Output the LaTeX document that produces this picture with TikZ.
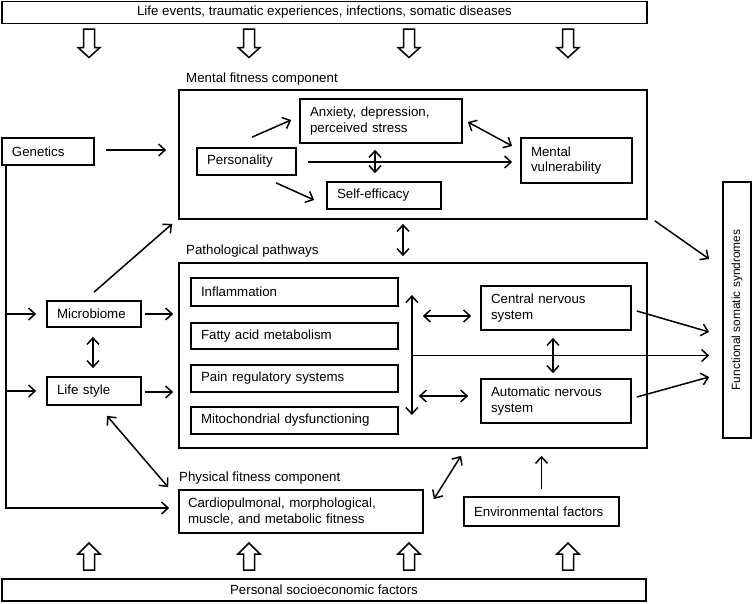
\documentclass[tikz,border=0pt]{standalone}
\usepackage{fontspec}
\setmainfont{Liberation Sans}
\usepackage{graphicx}
\usetikzlibrary{arrows.meta,calc}
\tikzset{
  box/.style={draw, line width=1.7pt, inner xsep=10pt, inner ysep=0pt, align=left},
  frame/.style={draw, line width=1.7pt, inner sep=0pt},
  bar/.style={draw, line width=1.7pt, inner sep=0pt, align=center},
  lbl/.style={inner sep=0pt, anchor=base west},
  arr/.style={line width=1.5pt, -{Straight Barb[length=6.5pt,width=12pt]}},
  darr/.style={line width=1.5pt, {Straight Barb[length=6.5pt,width=12pt]}-{Straight Barb[length=6.5pt,width=12pt]}},
  hollow/.style={line width=1.5pt, line join=miter},
}
\begin{document}
\begin{tikzpicture}[x=1pt,y=-1pt,font=\fontsize{13.3}{15.6}\selectfont]
\useasboundingbox (0,0) rectangle (752,603);

% bars
\node[bar, minimum width=645pt, minimum height=22pt] (top) at (324.5,12.5) {Life events, traumatic experiences, infections, somatic diseases};
\node[bar, minimum width=644pt, minimum height=22pt] (bottom) at (324,590) {Personal socioeconomic factors};

% hollow arrows
\foreach \cx in {89,249,409,568}{
  \draw[hollow] (\cx-5.5,29) -- (\cx+5.5,29) -- (\cx+5.5,47.5) -- (\cx+11,47.5) -- (\cx,57.5) -- (\cx-11,47.5) -- (\cx-5.5,47.5) -- cycle;
  \draw[hollow] (\cx-5.5,570) -- (\cx+5.5,570) -- (\cx+5.5,554) -- (\cx+11,554) -- (\cx,543) -- (\cx-11,554) -- (\cx-5.5,554) -- cycle;
}

% labels
\node[lbl] (lmental) at (186,82) {Mental fitness component};
\node[lbl] (lpatho) at (186,254) {Pathological pathways};
\node[lbl] (lphys) at (179,481) {Physical fitness component};

% left column
\node[box, text width=72pt, minimum height=27pt] (genetics) at (48,151.5) {Genetics};
\node[box, text width=74pt, minimum height=26pt] (microbiome) at (94,314) {Microbiome};
\node[box, text width=74pt, minimum height=28pt] (lifestyle) at (94,391) {Life style};

% mental fitness
\node[frame, minimum width=468pt, minimum height=129pt] (mental) at (413,154.5) {};
\node[box, text width=142pt, minimum height=44pt] (anxiety) at (381,121) {Anxiety, depression,\\perceived stress};
\node[box, text width=79pt, minimum height=27pt] (personality) at (246.5,161.5) {Personality};
\node[box, text width=94pt, minimum height=27pt] (selfeff) at (384,195.5) {Self-efficacy};
\node[box, text width=91pt, minimum height=45pt] (mentalvul) at (576.5,160.5) {Mental\\vulnerability};

% pathological pathways
\node[frame, minimum width=468pt, minimum height=185pt] (patho) at (413,355.5) {};
\node[box, text width=187pt, minimum height=28pt] (inflam) at (294.5,292) {Inflammation};
\node[box, text width=187pt, minimum height=26pt] (fatty) at (294.5,336) {Fatty acid metabolism};
\node[box, text width=187pt, minimum height=27pt] (pain) at (294.5,378.5) {Pain regulatory systems};
\node[box, text width=187pt, minimum height=27pt] (mito) at (294.5,420.5) {Mitochondrial dysfunctioning};
\node[box, text width=130pt, minimum height=44pt] (cns) at (556,308) {Central nervous\\system};
\node[box, text width=130pt, minimum height=44pt] (ans) at (556,401) {Automatic nervous\\system};

% physical fitness and environment
\node[box, minimum height=43pt, inner xsep=9pt, text width=226pt] (cardio) at (301,511.5) {Cardiopulmonal, morphological,\\muscle, and metabolic fitness};
\node[box, text width=135pt, minimum height=29pt] (env) at (541.5,511.5) {Environmental factors};

% functional somatic syndromes
\node[draw, line width=1.7pt, inner sep=0pt, minimum width=28pt, minimum height=256pt] (fss) at (737,310) {\rotatebox{90}{\fontsize{11.9}{14}\selectfont Functional somatic syndromes}};

% connectors: genetics
\draw[arr] ($(genetics.east)+(11,-1.5)$) -- ($(genetics.east -| mental.west)+(-12,-1.5)$);
\coordinate (gl) at ($(genetics.south west)+(5,0)$);
\draw[arr] (gl) |- ($(cardio.west)+(-9,-3.5)$);
\draw[arr] (gl |- microbiome.west) -- ($(microbiome.west)+(-10,0)$);
\draw[arr] (gl |- lifestyle.west) -- ($(lifestyle.west)+(-10,0)$);

% connectors: mental fitness
\draw[arr] ($(personality.north)+(5.5,-10)$) -- ($(anxiety.west)+(-8,-1)$);
\draw[arr] ($(personality.south)+(29.5,7)$) -- ($(selfeff.west)+(-12,4.5)$);
\draw[arr] ($(personality.east)+(11,0.5)$) -- ($(personality.east -| mentalvul.west)+(-8,0.5)$);
\draw[darr] ($(anxiety.south)+(-6,6)$) -- ($(selfeff.north)+(-9,-8)$);
\draw[darr] ($(anxiety.east)+(5,1)$) -- ($(mentalvul.west)+(-8,-14.5)$);
\draw[arr] ($(mental.south east)+(7,1)$) -- ($(fss.west)+(-13,-51)$);
\draw[darr] ($(mental.south)+(-10,4)$) -- ($(patho.north)+(-10,-6)$);

% connectors: microbiome, life style
\draw[arr] ($(microbiome.north)+(0,-8)$) -- ($(mental.south west)+(-6,4)$);
\draw[arr] ($(microbiome.east)+(3,0)$) -- ($(microbiome.east -| patho.west)+(-5,0)$);
\draw[darr] ($(microbiome.south)+(-1,9)$) -- ($(lifestyle.north)+(-1,-8)$);
\draw[arr] ($(lifestyle.east)+(3,1)$) -- ($(lifestyle.east -| patho.west)+(-5,1)$);
\draw[darr] ($(lifestyle.south)+(13,10)$) -- ($(cardio.north west)+(-10,-2)$);

% connectors: pathological pathways
\coordinate (vt) at ($(inflam.east)+(13,3)$);
\coordinate (vb) at ($(mito.east)+(13,-5.5)$);
\draw[darr] (vt) -- (vb);
\draw[arr] (vt |- patho.center) -- ($(patho.center -| fss.west)+(-13,0)$);
\draw[darr] ($(vt |- cns.west)+(11,8)$) -- ($(cns.west)+(-9,8)$);
\draw[darr] ($(vt |- ans.west)+(7,-5)$) -- ($(ans.west)+(-12,-5)$);
\draw[darr] ($(cns.south)+(-3,7)$) -- ($(ans.north)+(-3,-5)$);
\draw[arr] ($(cns.east)+(5,3)$) -- ($(fss.west)+(-13,22)$);
\draw[arr] ($(ans.east)+(5,-4)$) -- ($(fss.west)+(-13,67)$);

% connectors: physical fitness, environment
\draw[darr] ($(cardio.north east)+(10,10)$) -- ($(patho.south)+(48,7)$);
\draw[arr] ($(env.north)+(0,-7)$) -- ($(env.north |- patho.south)+(0,7)$);
\end{tikzpicture}
\end{document}
